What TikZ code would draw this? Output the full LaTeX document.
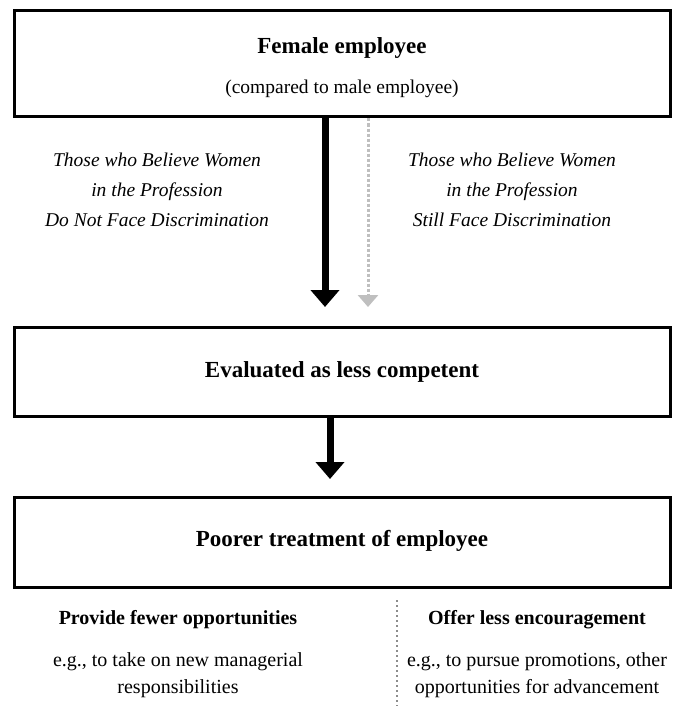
\documentclass[tikz,border=0pt]{standalone}
\usepackage{fontspec}
\setmainfont{Liberation Serif}
\usetikzlibrary{arrows.meta}
\definecolor{lightarrow}{HTML}{BFBFBF}
\definecolor{divider}{HTML}{8C8C8C}
\begin{document}
\begin{tikzpicture}[x=1pt,y=-1pt,
  box/.style={draw, line width=3pt, minimum width=656pt, inner sep=0pt},
  title/.style={font=\fontsize{23}{27}\selectfont\bfseries, inner sep=0pt},
  sub/.style={font=\fontsize{19.5}{23}\selectfont, inner sep=0pt},
  path/.style={font=\fontsize{19.5}{23}\selectfont\itshape, align=center, inner sep=0pt},
  head/.style={font=\fontsize{20}{24}\selectfont\bfseries, inner sep=0pt},
  body/.style={font=\fontsize{20}{27}\selectfont, align=center, inner sep=0pt},
  mainarrow/.style={line width=7pt, -{Triangle[length=17pt,width=28pt]}},
  softarrow/.style={line width=3pt, color=lightarrow, dash pattern=on 3pt off 2pt,
                    -{Triangle[length=12pt,width=20pt]}}]
\useasboundingbox (0,0) rectangle (684,706);

% boxes
\node[box, minimum height=106pt] (female) at (342,64) {};
\node[box, minimum height=89pt] (evaluated) at (342,371.5) {};
\node[box, minimum height=90pt] (poorer) at (342,542) {};

% box texts
\node[title] (femaleT) at (342,48) {Female employee};
\node[sub] (femaleS) at (342,89) {(compared to male employee)};
\node[title] (evalT) at (342,372) {Evaluated as less competent};
\node[title] (poorT) at (342,541) {Poorer treatment of employee};

% path labels
\node[path] (noDisc) at (157,190) {Those who Believe Women\\[7pt]in the Profession\\[7pt]Do Not Face Discrimination};
\node[path] (stillDisc) at (512,190) {Those who Believe Women\\[7pt]in the Profession\\[7pt]Still Face Discrimination};

% arrow end points
\coordinate (tipA) at (325,307);
\coordinate (tipB) at (368,307);
\coordinate (tipC) at (330,479);

\draw[mainarrow] (female.south -| tipA) -- (tipA);
\draw[softarrow] (female.south -| tipB) -- (tipB);
\draw[mainarrow] (evaluated.south -| tipC) -- (tipC);

% consequences
\node[head] (fewer) at (178,620) {Provide fewer opportunities};
\node[body] (fewerEx) at (178,675) {e.g., to take on new managerial\\responsibilities};
\node[head] (less) at (537,620) {Offer less encouragement};
\node[body] (lessEx) at (537,675) {e.g., to pursue promotions, other\\opportunities for advancement};

\coordinate (divTop) at (397,600);
\coordinate (divBot) at (397,706);
\draw[divider, line width=2pt, dash pattern=on 2pt off 3pt] (divTop) -- (divBot);
\end{tikzpicture}
\end{document}
